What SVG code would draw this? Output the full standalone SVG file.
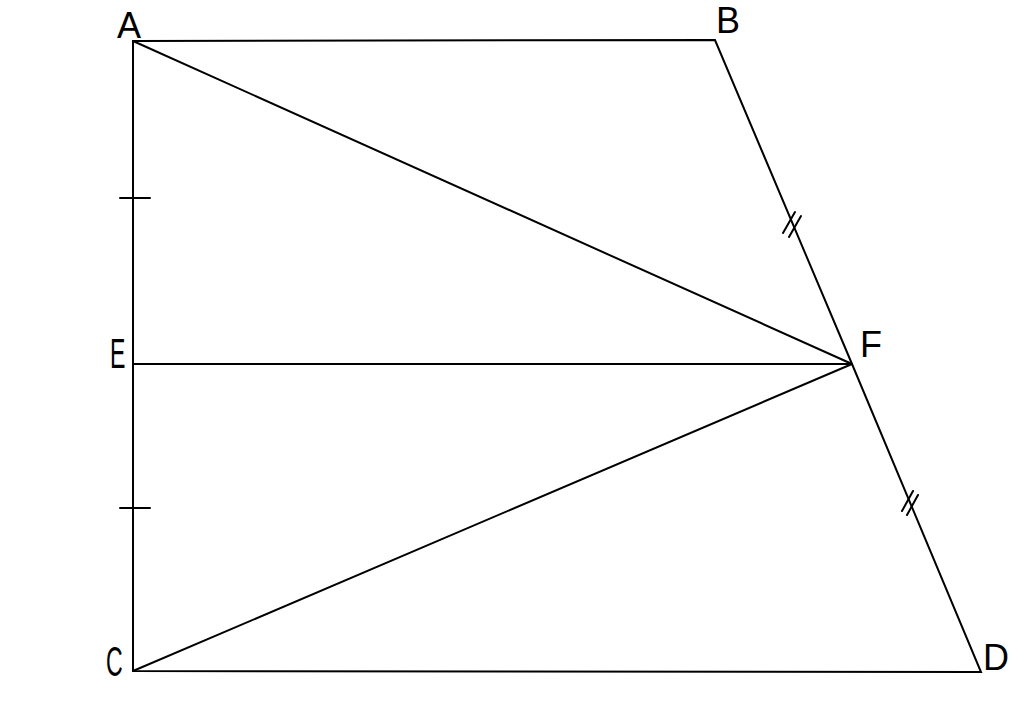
<svg xmlns="http://www.w3.org/2000/svg" width="1024" height="701" viewBox="0 0 1024 701">
<style>
.l{stroke:#000;stroke-width:2;fill:none;stroke-linecap:round}
.t{font-family:"Liberation Sans",Arial,sans-serif;font-size:36px;fill:#000}
.n{font-size:42px}
</style>
<rect width="1024" height="701" fill="#fff"/>
<g id="connectors">
<path class="l" d="M133,41 L715,40 L852,364 L981,672 L133,671 Z"/>
<path class="l" d="M133,41 L852,364 M133,364 L852,364 M133,671 L852,364"/>
<path class="l" d="M120,198 H150 M120,508 H150"/>
<path class="l" d="M783,233 L795,212 M789,237 L801,216 M902,511 L913,491 M907,515 L918,495"/>
</g>
<g id="A"><text class="t" x="117" y="38">A</text></g>
<g id="B"><text class="t" x="716" y="33">B</text></g>
<g id="F"><text class="t" x="860" y="357">F</text></g>
<g id="E"><text class="t n" x="110" y="368" transform="translate(110 0) scale(0.55 1) translate(-110 0)">E</text></g>
<g id="C"><text class="t n" x="106" y="676" transform="translate(106 0) scale(0.55 1) translate(-106 0)">C</text></g>
<g id="D"><text class="t" x="983" y="670">D</text></g>
</svg>
